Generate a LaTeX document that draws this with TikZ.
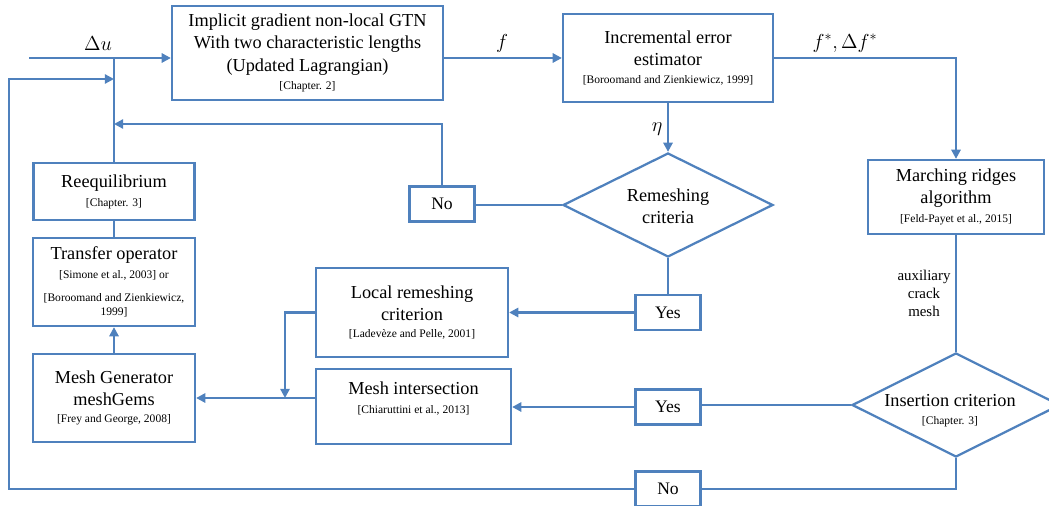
\documentclass[tikz,border=0pt]{standalone}
\usepackage{fontspec}
\setmainfont{Liberation Serif}
\usetikzlibrary{shapes.geometric,arrows.meta}

\definecolor{flowblue}{RGB}{79,129,189}
\newlength{\pxu}\setlength{\pxu}{0.025cm}
\newcommand{\cit}[1]{{\fontsize{8.2}{10}\selectfont #1}}

\tikzset{
  box/.style 2 args={draw=flowblue,line width=1.6pt,align=center,inner sep=1pt,
    minimum width=#1\pxu,minimum height=#2\pxu,font=\fontsize{13}{16}\selectfont},
  decision/.style 2 args={diamond,draw=flowblue,line width=1.6pt,inner sep=0pt,
    minimum width=#1\pxu,minimum height=#2\pxu},
  dectext/.style={align=center,inner sep=0pt,font=\fontsize{13}{16}\selectfont},
  answer/.style={draw=flowblue,line width=1.6pt,minimum width=65\pxu,minimum height=35\pxu,
    inner sep=0pt,font=\fontsize{12.5}{15}\selectfont},
  mathlab/.style={inner sep=0pt,font=\fontsize{14}{16}\selectfont},
  link/.style={flowblue,line width=1.6pt},
  flow/.style={link,-{Triangle[length=6.5pt,width=6.5pt]}}
}

\begin{document}
\begin{tikzpicture}[x=0.025cm,y=-0.025cm]
  \useasboundingbox (0,0) rectangle (1049,505);

  \node[box={271}{94}] (gtn) at (307.5,53)
    {Implicit gradient non-local GTN\\With two characteristic lengths\\(Updated Lagrangian)\\[-3pt]\cit{[Chapter. 2]}};
  \node[box={210}{88}] (err) at (668,58)
    {Incremental error\\estimator\\[-3pt]\cit{[Boroomand and Zienkiewicz, 1999]}};
  \node[box={176}{74}] (march) at (956,197)
    {Marching ridges\\algorithm\\[-2.5pt]\cit{[Feld-Payet et al., 2015]}};

  \node[box={161}{57}] (reeq) at (114,191.5)
    {Reequilibrium\\[-2.5pt]\cit{[Chapter. 3]}};
  \node[box={162}{88}] (transf) at (114,282)
    {Transfer operator\\[-2.5pt]\cit{[Simone et al., 2003] or}\\\cit{[Boroomand and Zienkiewicz,}\\[-6pt]\cit{1999]}};
  \node[box={162}{88}] (meshgen) at (114,398)
    {Mesh Generator\\meshGems\\[-4pt]\cit{[Frey and George, 2008]}};

  \node[box={192}{89}] (local) at (412,312.5)
    {Local remeshing\\criterion\\[-4pt]\cit{[Ladevèze and Pelle, 2001]}};
  \node[box={195}{75}] (inter) at (413.5,406.5)
    {Mesh intersection\\[-2.5pt]\cit{[Chiaruttini et al., 2013]}\\[-4pt]\mbox{}};

  \node[decision={210}{104}] (rem) at (668,205) {};
  \node[dectext] (remtext) at (668,206) {Remeshing\\criteria};
  \node[decision={208}{104}] (ins) at (956,405) {};
  \node[dectext] (instext) at (950,411) {Insertion criterion\\[-3pt]\cit{[Chapter. 3]}};

  \node[answer] (no1) at (442,204) {No};
  \node[answer] (yes1) at (668,312.5) {Yes};
  \node[answer] (yes2) at (668,407) {Yes};
  \node[answer] (no2) at (668,489) {No};

  \node[mathlab] (du) at (98,44) {$\Delta u$};
  \node[mathlab] (flab) at (502,43) {$f$};
  \node[mathlab] (fstar) at (845,43) {$f^{*},\Delta f^{*}$};
  \node[mathlab] (eta) at (657,129) {$\eta$};
  \node[align=center,inner sep=0pt,font=\fontsize{10.6}{12.8}\selectfont] (aux) at (924,293)
    {auxiliary\\crack\\mesh};

  \coordinate (start) at (29,58);
  \coordinate (back) at (114,124);
  \coordinate (loop) at (9,79);
  \coordinate (merge) at (285,398);

  \draw[flow] (start) -- (start -| gtn.west);
  \draw[flow] (gtn.east |- err.west) -- (err.west);
  \draw[flow] (err.east) -| (march.north);
  \draw[flow] (err.south) -- (rem.north);
  \draw[link] (rem.west) -- (rem.west -| no1.east);
  \draw[flow] (no1.north) |- (back);
  \draw[link] (rem.south) -- (yes1.north);
  \draw[flow] (yes1.west) -- (yes1.west -| local.east);
  \draw[flow] (local.west) -| (merge);
  \draw[flow] (inter.west |- meshgen.east) -- (meshgen.east);
  \draw[link] (march.south) -- (ins.north);
  \draw[link] (ins.west) -- (ins.west -| yes2.east);
  \draw[flow] (yes2.west) -- (yes2.west -| inter.east);
  \draw[link] (ins.south) |- (no2.east);
  \draw[flow] (no2.west) -| (loop) -- (loop -| reeq.north);
  \draw[flow] (meshgen.north) -- (transf.south);
  \draw[link] (transf.north) -- (reeq.south);
  \draw[link] (reeq.north) -- (reeq.north |- start);
\end{tikzpicture}
\end{document}
